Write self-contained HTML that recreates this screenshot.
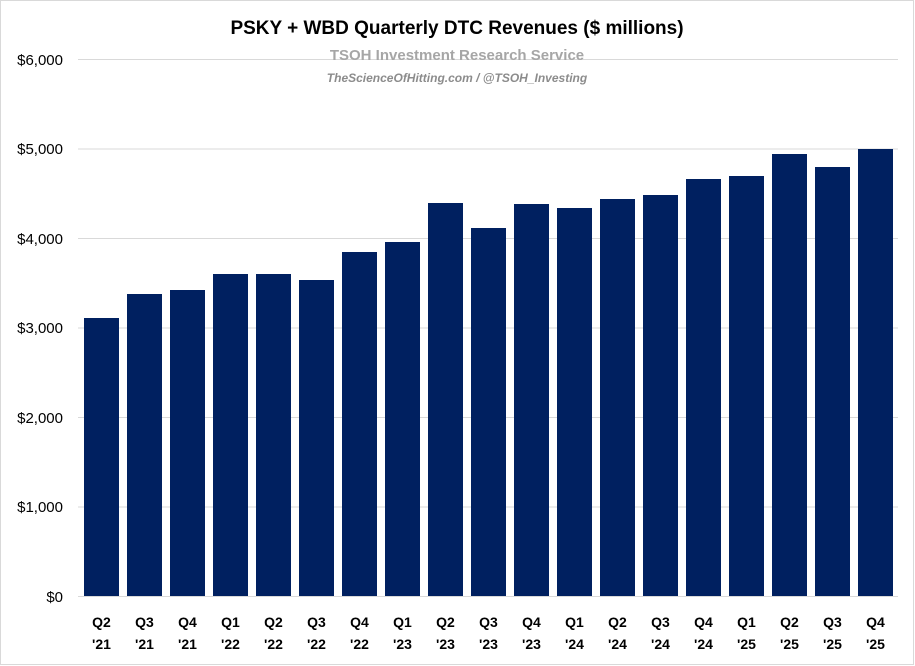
<!DOCTYPE html>
<html><head><meta charset="utf-8"><style>
body{margin:0;background:#fff;}
svg{display:block;font-family:"Liberation Sans",sans-serif;}
</style></head><body>
<svg width="915" height="666" viewBox="0 0 915 666">
<rect x="0.5" y="0.5" width="913" height="664" fill="#fff" stroke="#d9d9d9"/>
<g stroke="#d9d9d9" stroke-width="1">
<line x1="78" x2="898" y1="59.5" y2="59.5"/>
<line x1="78" x2="898" y1="149" y2="149"/>
<line x1="78" x2="898" y1="238.5" y2="238.5"/>
<line x1="78" x2="898" y1="328" y2="328"/>
<line x1="78" x2="898" y1="417.5" y2="417.5"/>
<line x1="78" x2="898" y1="507" y2="507"/>
<line x1="78" x2="898" y1="596.5" y2="596.5"/>
</g>
<g font-size="15" fill="#000" text-anchor="end">
<text x="63" y="65">$6,000</text>
<text x="63" y="154">$5,000</text>
<text x="63" y="244">$4,000</text>
<text x="63" y="333">$3,000</text>
<text x="63" y="423">$2,000</text>
<text x="63" y="512">$1,000</text>
<text x="63" y="602">$0</text>
</g>
<text x="457" y="34" text-anchor="middle" font-size="19" font-weight="bold">PSKY + WBD Quarterly DTC Revenues ($ millions)</text>
<text x="457" y="60" text-anchor="middle" font-size="15" font-weight="bold" fill="#a6a6a6">TSOH Investment Research Service</text>
<text x="457" y="82" text-anchor="middle" font-size="12" font-weight="bold" font-style="italic" fill="#8c8c8c">TheScienceOfHitting.com / @TSOH_Investing</text>
<g fill="#002060" id="bars"></g>
<g font-size="14" font-weight="bold" text-anchor="middle" id="labs"></g>
</svg>
<script>
var tops=[318,294,290,274,274,280,252,242,203,228,204,208,199,195,179,176,154,167,149];
var q=["Q2","Q3","Q4","Q1","Q2","Q3","Q4","Q1","Q2","Q3","Q4","Q1","Q2","Q3","Q4","Q1","Q2","Q3","Q4"];
var y=["'21","'21","'21","'22","'22","'22","'22","'23","'23","'23","'23","'24","'24","'24","'24","'25","'25","'25","'25"];
var ns="http://www.w3.org/2000/svg",b=document.getElementById("bars"),l=document.getElementById("labs");
for(var i=0;i<19;i++){var x=84+i*43;
var r=document.createElementNS(ns,"rect");r.setAttribute("x",x);r.setAttribute("y",tops[i]);r.setAttribute("width",35);r.setAttribute("height",596-tops[i]);b.appendChild(r);
var t=document.createElementNS(ns,"text");t.setAttribute("x",x+17.5);t.setAttribute("y",627);t.textContent=q[i];l.appendChild(t);
var t2=document.createElementNS(ns,"text");t2.setAttribute("x",x+17.5);t2.setAttribute("y",649);t2.textContent=y[i];l.appendChild(t2);}
</script>
</body></html>
